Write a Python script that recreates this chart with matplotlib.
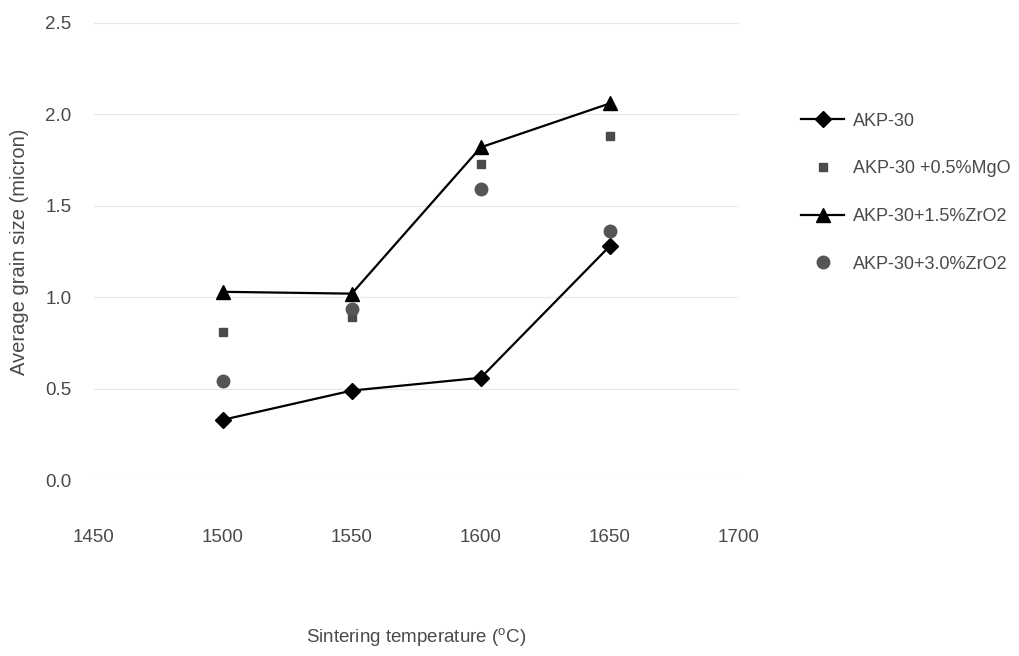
import matplotlib
matplotlib.use('Agg')
import matplotlib.pyplot as plt

# sintering temperatures (C)
temps = [1500, 1550, 1600, 1650]

# average grain size (micron)
akp30 = [0.33, 0.49, 0.56, 1.28]
akp30_mgo = [0.81, 0.89, 1.73, 1.88]
akp30_zr15 = [1.03, 1.02, 1.82, 2.06]
akp30_zr30 = [0.54, 0.935, 1.59, 1.36]

xticks = [1450, 1500, 1550, 1600, 1650, 1700]
yticks = [0.0, 0.5, 1.0, 1.5, 2.0, 2.5]

plt.rcParams['font.family'] = ['Liberation Sans', 'DejaVu Sans']
plt.rcParams['mathtext.fontset'] = 'custom'
plt.rcParams['mathtext.rm'] = 'Liberation Sans'
textcol = '#4a4a4a'

fig = plt.figure(figsize=(10.19, 6.56), dpi=100)
ax = fig.add_axes([0.092, 0.268, 0.633, 0.697])

ax.plot(temps, akp30, color='black', lw=1.6, marker='D', ms=8,
        label='AKP-30')
ax.plot(temps, akp30_mgo, ls='none', marker='s', ms=6, color='#4a4a4a',
        label='AKP-30 +0.5%MgO')
ax.plot(temps, akp30_zr15, color='black', lw=1.6, marker='^', ms=10,
        label='AKP-30+1.5%ZrO2')
ax.plot(temps, akp30_zr30, ls='none', marker='o', ms=9, color='#555555',
        label='AKP-30+3.0%ZrO2')

ax.set_xlim(1450, 1700)
ax.set_ylim(0, 2.5)
ax.set_xticks(xticks)
ax.set_yticks(yticks)
ax.set_yticklabels(['%.1f' % v for v in yticks])

# faint horizontal grid like the scanned original
ax.grid(axis='y', color='#e8e8e8', lw=0.9)
ax.set_axisbelow(True)
for s in ax.spines.values():
    s.set_visible(False)
ax.tick_params(axis='both', length=0, labelsize=13.5, labelcolor=textcol)
ax.tick_params(axis='x', pad=35)
ax.tick_params(axis='y', pad=16)

ax.set_xlabel(r'Sintering temperature ($^{\mathrm{o}}$C)', fontsize=13.5,
              color=textcol, labelpad=58)
ax.set_ylabel('Average grain size (micron)', fontsize=14.5, color=textcol,
              labelpad=12)

leg = ax.legend(loc='upper left', bbox_to_anchor=(0.77, 0.853),
                bbox_transform=fig.transFigure, frameon=False,
                fontsize=13, labelspacing=1.7, handlelength=2.4,
                handletextpad=0.5)
for t in leg.get_texts():
    t.set_color(textcol)

fig.savefig('out.png', dpi=100)
